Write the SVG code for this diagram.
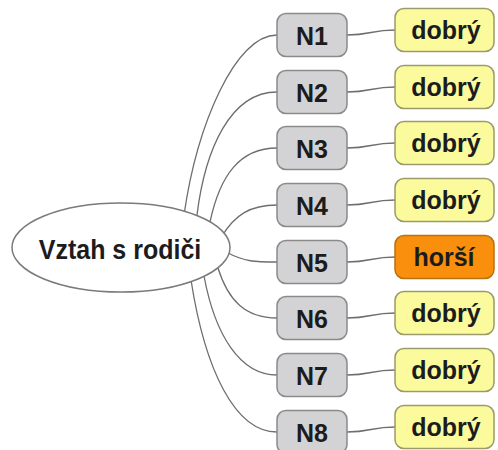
<svg xmlns="http://www.w3.org/2000/svg" width="498" height="450" viewBox="0 0 498 450">
  <style>
    .link { fill: none; stroke: #6e6e6e; stroke-width: 1.3; }
    .num rect { fill: #d3d3d5; stroke: #8a8a8a; stroke-width: 1.5; }
    .good rect { fill: #fbfb9e; stroke: #9a9a6a; stroke-width: 1.5; }
    .bad rect { fill: #f98f0c; stroke: #b8720f; stroke-width: 1.5; }
    text { font-family: "Liberation Sans", Arial, sans-serif; font-weight: bold; font-size: 25px; fill: #1c1c1c; text-anchor: middle; }
  </style>
  <rect width="498" height="450" fill="#ffffff"/>

  <!-- branch curves from the central topic to N1..N8, then to the ratings -->
  <g id="connectors">
    <path class="link" d="M184 215 C197 125 235 35 277 35"/>
    <path class="link" d="M197 215 C205 150 230 92 277 92"/>
    <path class="link" d="M210 222 C220 175 240 148 277 148"/>
    <path class="link" d="M222 236 C235 215 250 205 277 205"/>
    <path class="link" d="M226 252 C245 262 255 262 277 262"/>
    <path class="link" d="M218 268 C228 300 245 318 277 318"/>
    <path class="link" d="M204 276 C215 335 240 375 277 375"/>
    <path class="link" d="M191 280 C205 370 235 432 277 432"/>

    <path class="link" d="M347 35 C371 35 371 30 395 30"/>
    <path class="link" d="M347 92 C371 92 371 87 395 87"/>
    <path class="link" d="M347 148 C371 148 371 143 395 143"/>
    <path class="link" d="M347 205 C371 205 371 200 395 200"/>
    <path class="link" d="M347 262 C371 262 371 257 395 257"/>
    <path class="link" d="M347 318 C371 318 371 313 395 313"/>
    <path class="link" d="M347 375 C371 375 371 370 395 370"/>
    <path class="link" d="M347 432 C371 432 371 427 395 427"/>
  </g>

  <!-- central topic -->
  <g id="root">
    <ellipse cx="121" cy="247.5" rx="109" ry="44.5" fill="#ffffff" stroke="#7a7a7a" stroke-width="1.5"/>
    <text transform="translate(120 259) scale(1 1.1)" font-size="27">Vztah s rodiči</text>
  </g>

  <g id="n1" class="num"><rect x="277" y="13.5" width="70" height="43" rx="9"/><text x="312" y="44.5">N1</text></g>
  <g id="n2" class="num"><rect x="277" y="70.5" width="70" height="43" rx="9"/><text x="312" y="101.5">N2</text></g>
  <g id="n3" class="num"><rect x="277" y="126.5" width="70" height="43" rx="9"/><text x="312" y="157.5">N3</text></g>
  <g id="n4" class="num"><rect x="277" y="183.5" width="70" height="43" rx="9"/><text x="312" y="214.5">N4</text></g>
  <g id="n5" class="num"><rect x="277" y="240.5" width="70" height="43" rx="9"/><text x="312" y="271.5">N5</text></g>
  <g id="n6" class="num"><rect x="277" y="296.5" width="70" height="43" rx="9"/><text x="312" y="327.5">N6</text></g>
  <g id="n7" class="num"><rect x="277" y="353.5" width="70" height="43" rx="9"/><text x="312" y="384.5">N7</text></g>
  <g id="n8" class="num"><rect x="277" y="410.5" width="70" height="43" rx="9"/><text x="312" y="441.5">N8</text></g>

  <g id="v1" class="good"><rect x="395" y="8.5" width="99" height="43" rx="9"/><text x="446" y="38.5">dobrý</text></g>
  <g id="v2" class="good"><rect x="395" y="65.5" width="99" height="43" rx="9"/><text x="446" y="95.5">dobrý</text></g>
  <g id="v3" class="good"><rect x="395" y="121.5" width="99" height="43" rx="9"/><text x="446" y="151.5">dobrý</text></g>
  <g id="v4" class="good"><rect x="395" y="178.5" width="99" height="43" rx="9"/><text x="446" y="208.5">dobrý</text></g>
  <g id="v5" class="bad"><rect x="395" y="235.5" width="99" height="43" rx="9"/><text x="444" y="265.5">horší</text></g>
  <g id="v6" class="good"><rect x="395" y="291.5" width="99" height="43" rx="9"/><text x="446" y="321.5">dobrý</text></g>
  <g id="v7" class="good"><rect x="395" y="348.5" width="99" height="43" rx="9"/><text x="446" y="378.5">dobrý</text></g>
  <g id="v8" class="good"><rect x="395" y="405.5" width="99" height="43" rx="9"/><text x="446" y="435.5">dobrý</text></g>
</svg>
